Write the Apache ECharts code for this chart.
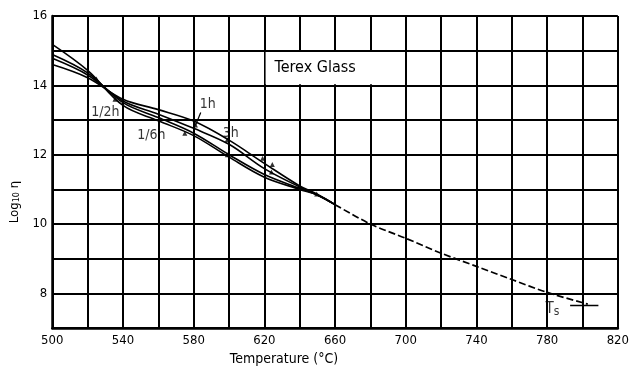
<!DOCTYPE html>
<html>
<head>
<meta charset="utf-8">
<script src="https://cdn.jsdelivr.net/npm/echarts@6/dist/echarts.min.js"></script>
<style>html,body{margin:0;padding:0;background:#fff}#c{width:632px;height:371px}</style>
</head>
<body>
<div id="c"></div>
<script>
// ---- data ----
const curveTemps = [500, 520, 540, 560, 580, 600, 620, 640, 650, 660];
const curveP = [15.18, 14.43, 13.42, 12.98, 12.55, 11.93, 11.35, 11.0, 10.84, 10.56];
const curveQ = [14.89, 14.36, 13.5, 13.07, 12.62, 12.0, 11.43, 11.03, 10.84, 10.56];
const curveR = [14.78, 14.3, 13.55, 13.17, 12.76, 12.3, 11.6, 11.07, 10.84, 10.56];
const curveS = [14.6, 14.22, 13.6, 13.3, 12.97, 12.42, 11.75, 11.1, 10.86, 10.56];
const extTemps = [660, 680, 700, 720, 740, 760, 780, 803];
const extValues = [10.56, 10.0, 9.59, 9.16, 8.78, 8.4, 8.03, 7.69];
const markerTemps = [525, 535.5, 575, 581, 599, 599, 619, 624.5, 624, 649.6];
const markerValues = [14.18, 13.6, 12.62, 12.86, 12.43, 12.0, 11.9, 11.72, 11.5, 10.87];
const tsTemps = [793, 809];
const tsValues = [7.65, 7.65];
const leaderTemps = [584, 581];
const leaderValues = [13.22, 12.84];
const annotations = [
  {name: '1/2h', t: 530, v: 13.22},
  {name: '1/6h', t: 556, v: 12.56},
  {name: '1h', t: 588, v: 13.44},
  {name: '3h', t: 601, v: 12.62},
  {name: 'Ts', t: 783, v: 7.55}
];
const boxRange = [[620, 15], [700, 14]];
const boxTitle = 'Terex Glass';
const xLabelStep = 40;
const yLabelStep = 2;

const FONT = '"DejaVu Sans Condensed", "Liberation Sans Narrow", "DejaVu Sans", sans-serif';
const zip = (a, b) => a.map((x, i) => [x, b[i]]);
const curveStyle = {type: 'line', smooth: 0.35, symbol: 'none', lineStyle: {color: '#000', width: 1.6}, z: 3};

const chart = echarts.init(document.getElementById('c'), null, {renderer: 'canvas'});
chart.setOption({
  animation: false,
  backgroundColor: '#fff',
  grid: {left: 52, right: 11, top: 16, bottom: 38},
  xAxis: {
    type: 'value', min: 500, max: 820, interval: 20,
    axisLine: {show: true, onZero: false, lineStyle: {color: '#000', width: 2.5}},
    axisTick: {show: false},
    axisLabel: {
      color: '#000', fontFamily: FONT, fontSize: 13, margin: 6,
      formatter: v => ((v - 500) % xLabelStep === 0 ? String(v) : '')
    },
    splitLine: {show: true, lineStyle: {color: '#000', width: 2}},
    name: 'Temperature (°C)', nameLocation: 'middle', nameGap: 21,
    nameTextStyle: {color: '#000', fontFamily: FONT, fontSize: 14, padding: [0, 102, 0, 0]}
  },
  yAxis: {
    type: 'value', min: 7, max: 16, interval: 1,
    axisLine: {show: true, onZero: false, lineStyle: {color: '#000', width: 2.5}},
    axisTick: {show: false},
    axisLabel: {
      color: '#000', fontFamily: FONT, fontSize: 13, margin: 5,
      formatter: v => (v % yLabelStep === 0 ? String(v) : '')
    },
    splitLine: {show: true, lineStyle: {color: '#000', width: 2}},
    name: '{a|Log}{b|10} {a|η}', nameLocation: 'middle', nameRotate: 90, nameGap: 30,
    nameTextStyle: {
      color: '#000', fontFamily: FONT, fontSize: 13, padding: [0, 60, 0, 0],
      rich: {
        a: {fontFamily: FONT, fontSize: 13, color: '#000'},
        b: {fontFamily: FONT, fontSize: 9, color: '#000', padding: [5, 0, 0, 0]}
      }
    }
  },
  series: [
    {
      type: 'line', data: [], symbol: 'none', silent: true, z: 2,
      markArea: {
        silent: true,
        itemStyle: {color: '#fff', borderWidth: 0},
        label: {
          show: true, position: 'insideLeft', distance: 9,
          color: '#000', fontFamily: FONT, fontSize: 16
        },
        data: [[
          {name: boxTitle, coord: [boxRange[0][0] + 0.7, boxRange[0][1] - 0.035]},
          {coord: [boxRange[1][0] - 0.7, boxRange[1][1] + 0.035]}
        ]]
      }
    },
    Object.assign({data: zip(curveTemps, curveP)}, curveStyle),
    Object.assign({data: zip(curveTemps, curveQ)}, curveStyle),
    Object.assign({data: zip(curveTemps, curveR)}, curveStyle),
    Object.assign({data: zip(curveTemps, curveS)}, curveStyle),
    {
      type: 'line', data: zip(extTemps, extValues), smooth: 0.3, symbol: 'none', z: 3,
      lineStyle: {color: '#000', width: 1.7, type: [7, 3]}
    },
    {
      type: 'line', data: zip(tsTemps, tsValues), symbol: 'none', z: 3,
      lineStyle: {color: '#000', width: 1.6}
    },
    {
      type: 'line', data: zip(leaderTemps, leaderValues), symbol: 'none', z: 3,
      lineStyle: {color: '#000', width: 1.2}
    },
    {
      type: 'scatter', data: zip(markerTemps, markerValues), symbol: 'triangle', symbolSize: 5, z: 4,
      itemStyle: {color: '#000'}
    },
    {
      type: 'scatter', symbolSize: 0, z: 5,
      data: annotations.map(a => ({name: a.name, value: [a.t, a.v]})),
      label: {
        show: true, position: 'inside', color: '#000', fontFamily: FONT, fontSize: 14,
        formatter: p => (p.name === 'Ts' ? '{t|T}{s|s}' : p.name),
        rich: {
          t: {fontFamily: FONT, fontSize: 15, color: '#000'},
          s: {fontFamily: FONT, fontSize: 12, color: '#000', padding: [6, 0, 0, 0]}
        }
      }
    }
  ]
});
</script>
</body>
</html>
